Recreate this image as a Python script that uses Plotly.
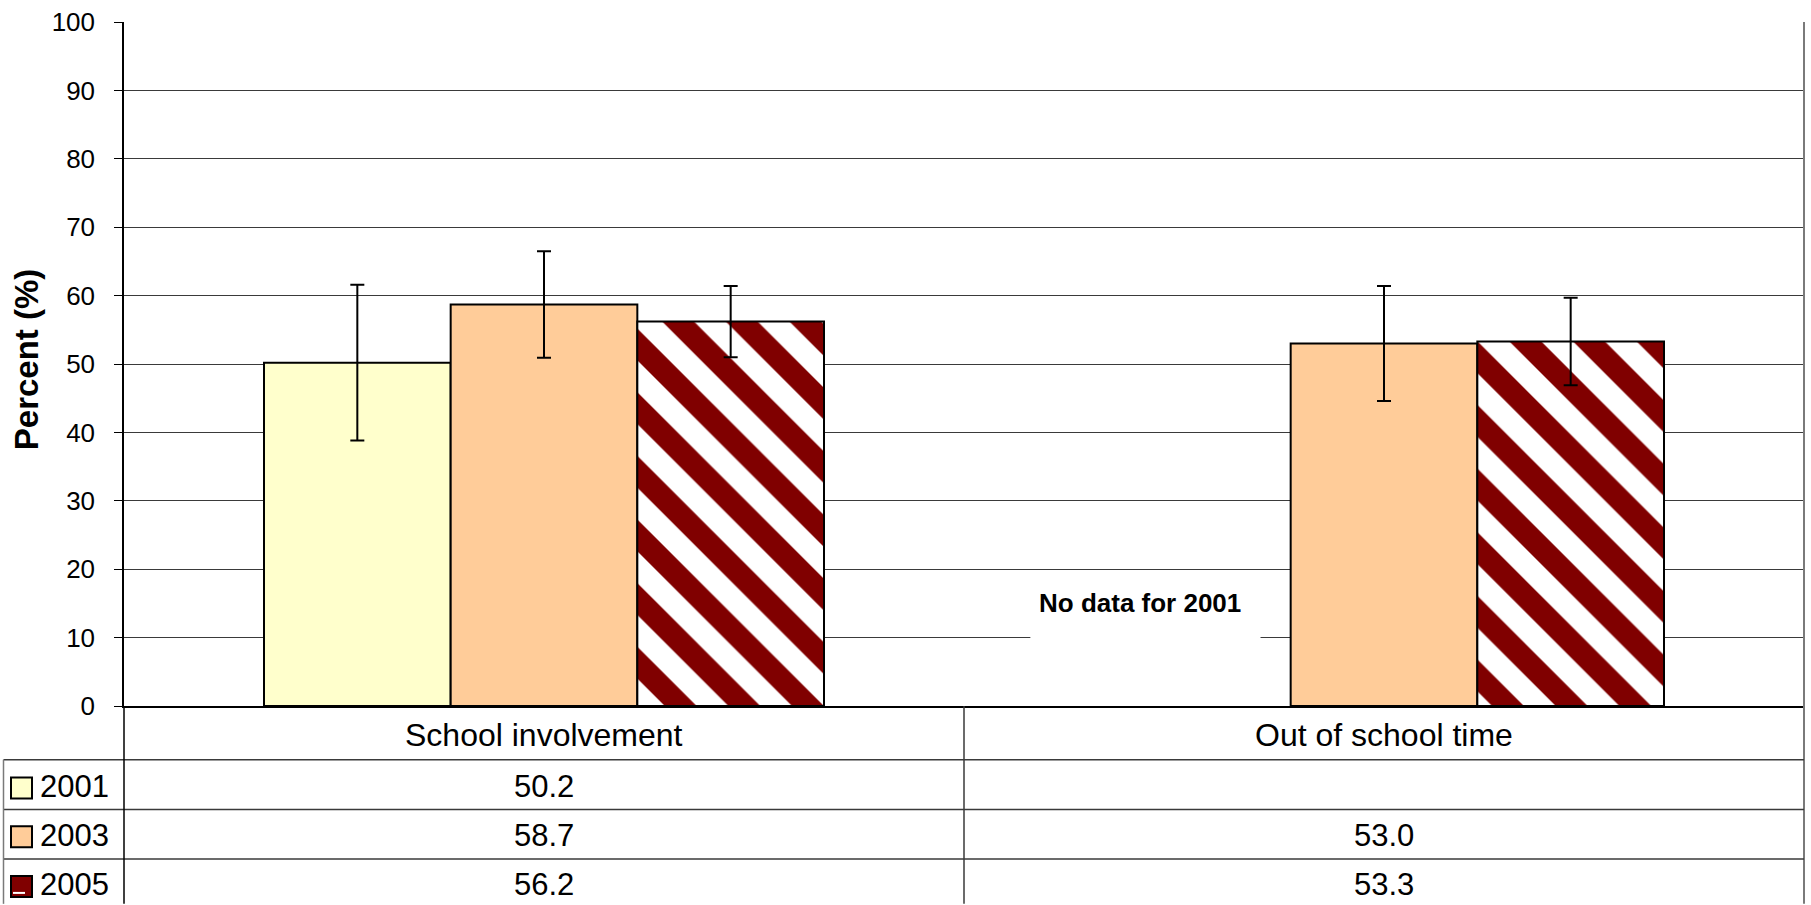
import plotly.graph_objects as go

# ---- data -------------------------------------------------------------
categories = ["School involvement", "Out of school time"]
years = ["2001", "2003", "2005"]
values_2001 = [50.2, None]
values_2003 = [58.7, 53.0]
values_2005 = [56.2, 53.3]
err_2001 = [11.4, None]
err_2003 = [7.8, 8.4]
err_2005 = [5.2, 6.4]
y_ticks = [0, 10, 20, 30, 40, 50, 60, 70, 80, 90, 100]
no_data_note = "No data for 2001"
y_title = "Percent (%)"

# ---- styling ----------------------------------------------------------
W, H = 1811, 905
M_L, M_R, M_T, M_B = 124, 7, 18, 199
PW, PH = W - M_L - M_R, H - M_T - M_B
FONT = "Liberation Sans, Arial, sans-serif"
C2001, C2003, C2005 = "#FFFFCC", "#FFCC99", "#800000"
LINE_DARK = "#3a3a3a"
LINE_GRAY = "#7a7a7a"
TABLE_FONT = 31


def px_x(px):
    """Pixel column -> paper x."""
    return (px - M_L) / PW


def px_y(px):
    """Pixel row -> paper y."""
    return (H - M_B - px) / PH


err_style = dict(type="data", visible=True, color="black", thickness=2, width=7)
outline = dict(color="black", width=2)

fig = go.Figure()
fig.add_trace(go.Bar(
    name=years[0], x=categories, y=values_2001,
    marker=dict(color=C2001, line=outline),
    error_y=dict(array=err_2001, **err_style),
))
fig.add_trace(go.Bar(
    name=years[1], x=categories, y=values_2003,
    marker=dict(color=C2003, line=outline),
    error_y=dict(array=err_2003, **err_style),
))
fig.add_trace(go.Bar(
    name=years[2], x=categories, y=values_2005,
    marker=dict(
        color="white", line=outline,
        pattern=dict(shape="\\", fgcolor=C2005, bgcolor="white",
                     size=45, solidity=0.5, fillmode="replace"),
    ),
    error_y=dict(array=err_2005, **err_style),
))

shapes = []
annotations = []

# white box behind the "no data" note
shapes.append(dict(type="rect", xref="x", yref="y", x0=0.579, x1=0.853,
                   y0=9.2, y1=18.0, fillcolor="white", line=dict(width=0),
                   layer="between"))
annotations.append(dict(xref="x", yref="y", x=0.71, y=15.05, text=f"<b>{no_data_note}</b>",
                        showarrow=False, font=dict(family=FONT, size=26, color="black"),
                        xanchor="center", yanchor="middle"))

# right border of the plot area and table
shapes.append(dict(type="line", xref="paper", yref="paper", x0=1, x1=1,
                   y0=1, y1=px_y(H), line=dict(color=LINE_GRAY, width=2)))

# data-table grid below the axis
row_lines = [760, 810, 860]
for r in row_lines:
    shapes.append(dict(type="line", xref="paper", yref="paper",
                       x0=px_x(3.5), x1=1, y0=px_y(r), y1=px_y(r),
                       line=dict(color=LINE_DARK, width=1.5)))
shapes.append(dict(type="line", xref="paper", yref="paper",
                   x0=px_x(3.5), x1=px_x(3.5), y0=px_y(760), y1=px_y(H),
                   line=dict(color=LINE_GRAY, width=1.5)))
shapes.append(dict(type="line", xref="paper", yref="paper",
                   x0=0, x1=0, y0=0, y1=px_y(H),
                   line=dict(color="black", width=1.5)))
shapes.append(dict(type="line", xref="x", yref="paper",
                   x0=0.5, x1=0.5, y0=0, y1=px_y(H),
                   line=dict(color=LINE_DARK, width=1.5)))

# category labels in the header row
for cat in categories:
    annotations.append(dict(xref="x", yref="paper", x=cat, y=px_y(735), text=cat,
                            showarrow=False, font=dict(family=FONT, size=TABLE_FONT + 1, color="black"),
                            xanchor="center", yanchor="middle"))

# table rows: legend key, year label, values
row_centers = [787, 836, 886]
key_colors = [C2001, C2003, C2005]
series = [values_2001, values_2003, values_2005]
for yr, rc, kc, vals in zip(years, row_centers, key_colors, series):
    shapes.append(dict(type="rect", xref="paper", yref="paper",
                       x0=px_x(11), x1=px_x(32), y0=px_y(rc - 9), y1=px_y(rc + 12),
                       fillcolor=kc, line=dict(color="black", width=2)))
    annotations.append(dict(xref="paper", yref="paper", x=px_x(38), y=px_y(rc), text=yr,
                            showarrow=False, font=dict(family=FONT, size=TABLE_FONT, color="black"),
                            xanchor="left", yanchor="middle"))
    for cat, v in zip(categories, vals):
        if v is None:
            continue
        annotations.append(dict(xref="x", yref="paper", x=cat, y=px_y(rc), text=f"{v:.1f}",
                                showarrow=False, font=dict(family=FONT, size=TABLE_FONT, color="black"),
                                xanchor="center", yanchor="middle"))

# small white dash inside the patterned key
shapes.append(dict(type="line", xref="paper", yref="paper",
                   x0=px_x(13), x1=px_x(25), y0=px_y(894), y1=px_y(894),
                   line=dict(color="white", width=2)))

# y-axis title
annotations.append(dict(xref="paper", yref="paper", x=px_x(26), y=0.507,
                        text=f"<b>{y_title}</b>", textangle=-90, showarrow=False,
                        font=dict(family=FONT, size=33, color="black"),
                        xanchor="center", yanchor="middle"))

fig.update_layout(
    width=W, height=H,
    margin=dict(l=M_L, r=M_R, t=M_T, b=M_B, pad=0),
    paper_bgcolor="white", plot_bgcolor="white",
    barmode="group", bargap=1 / 3, bargroupgap=0,
    showlegend=False,
    shapes=shapes, annotations=annotations,
    font=dict(family=FONT, color="black"),
)
fig.update_xaxes(
    type="category", range=[-0.5, 1.5], showticklabels=False, ticks="",
    showline=True, linecolor="black", linewidth=1.5, showgrid=False, zeroline=False,
)
fig.update_yaxes(
    range=[0, 100], tickvals=y_ticks, ticks="outside", ticklen=8, tickcolor="black",
    tickwidth=1, tickfont=dict(family=FONT, size=26, color="black"), ticklabelstandoff=14,
    showline=True, linecolor="black", linewidth=1.5,
    showgrid=True, gridcolor=LINE_DARK, gridwidth=1, zeroline=False,
)

fig.write_html("out.html")
